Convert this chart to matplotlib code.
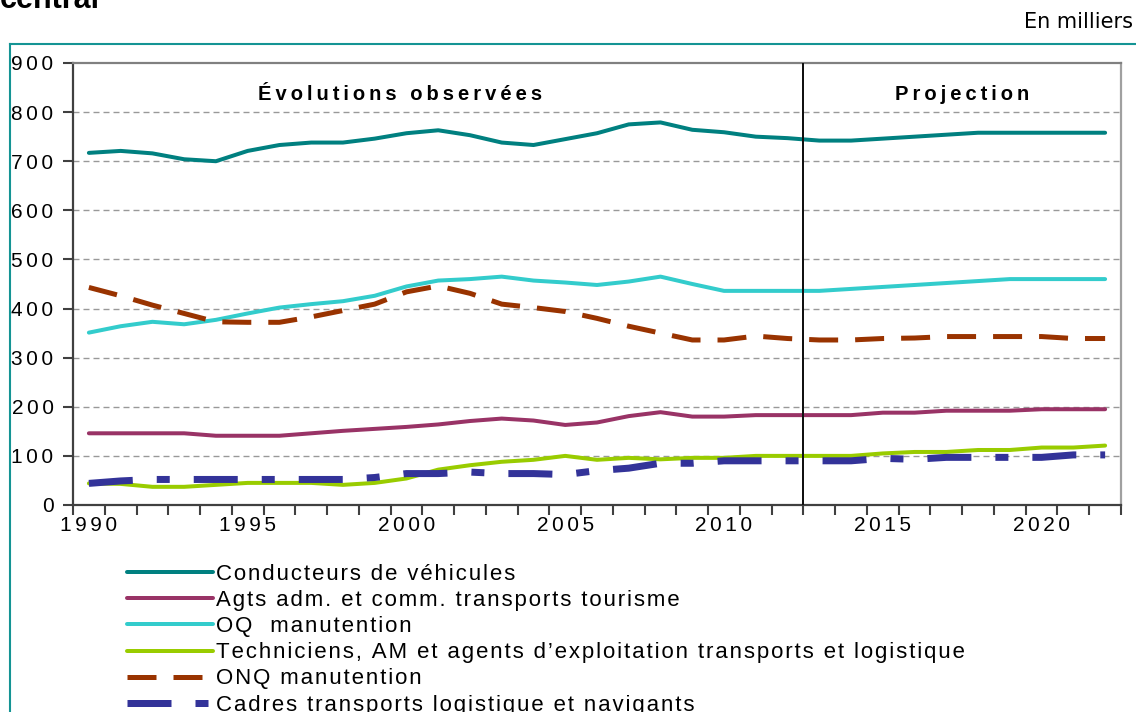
import matplotlib
matplotlib.use('Agg')
import matplotlib.pyplot as plt
import numpy as np
from matplotlib.lines import Line2D

plt.rcParams['font.family'] = ['Liberation Sans', 'DejaVu Sans']
plt.rcParams['lines.scale_dashes'] = False

# ---------------- data ----------------
years = list(range(1990, 2023))
conducteurs = [717, 721, 716, 704, 700, 721, 733, 738, 738, 746, 757, 763, 753, 738, 733,
               745, 757, 775, 779, 764, 759, 750, 747, 742, 742, 746, 750, 754, 758, 758,
               758, 758, 758]
agts = [146, 146, 146, 146, 141, 141, 141, 146, 151, 155, 159, 164, 171, 176, 172,
        163, 168, 181, 189, 180, 180, 183, 183, 183, 183, 188, 188, 192, 192, 192,
        195, 195, 195]
oq = [351, 364, 373, 368, 377, 390, 402, 409, 415, 426, 445, 457, 460, 465, 457,
      453, 448, 455, 465, 450, 436, 436, 436, 436, 440, 444, 448, 452, 456, 460,
      460, 460, 460]
tech = [44, 43, 37, 37, 41, 45, 45, 45, 41, 45, 54, 72, 81, 88, 92,
        100, 92, 96, 93, 96, 96, 100, 100, 100, 100, 105, 108, 108, 112, 112,
        117, 117, 121]
onq = [443, 426, 407, 390, 373, 372, 372, 383, 396, 409, 434, 446, 431, 409, 402,
       394, 380, 364, 350, 336, 336, 344, 339, 336, 336, 339, 340, 343, 343, 343,
       343, 339, 339]
cadres = [44, 49, 52, 52, 52, 52, 52, 52, 52, 56, 64, 64, 67, 64, 64,
          62, 70, 75, 85, 85, 90, 90, 90, 90, 90, 95, 93, 97, 97, 97,
          97, 102, 102]

labels = ["Conducteurs de véhicules",
          "Agts adm. et comm. transports tourisme",
          "OQ  manutention",
          "Techniciens, AM et agents d\u2019exploitation transports et logistique",
          "ONQ manutention",
          "Cadres transports logistique et navigants"]
y_ticks = [0, 100, 200, 300, 400, 500, 600, 700, 800, 900]
x_label_years = [1990, 1995, 2000, 2005, 2010, 2015, 2020]
last_observed_year = 2012
zone_labels = ["Évolutions observées", "Projection"]
unit_label = "En milliers"
top_text = "central"

colors = ['#008080', '#993366', '#33CCCC', '#99CC00', '#993300', '#333399']


def sp(s, ch='\u200a', n=1):
    return (ch * n).join(s)


W, H = 1136, 712
fig = plt.figure(figsize=(W / 100, H / 100), dpi=100)
ax = fig.add_axes([73 / W, 1 - 505 / H, (1121 - 73) / W, (505 - 63) / H])

x = np.arange(len(years))
px = 0.72  # points per pixel

series = [conducteurs, agts, oq, tech, onq, cadres]
handles = []
for i, (vals, lab) in enumerate(zip(series, labels)):
    if i < 4:
        ln, = ax.plot(x, vals, color=colors[i], lw=4 * px, solid_capstyle='round',
                      solid_joinstyle='round', label=sp(lab))
    elif i == 4:
        ln, = ax.plot(x, vals, color=colors[i], lw=5 * px,
                      dashes=(29 * px, 17 * px), dash_capstyle='butt', label=sp(lab))
    else:
        ln, = ax.plot(x, vals, color=colors[i], lw=7 * px,
                      dashes=(44 * px, 24 * px, 13 * px, 24 * px),
                      dash_capstyle='butt', label=sp(lab))
    handles.append(ln)

ax.set_xlim(-0.5, len(years) - 0.5)
ax.set_ylim(0, 900)

# grid
for v in y_ticks[1:-1]:
    ax.axhline(v, color='#999999', lw=1.0, dashes=(6 * px, 4 * px), zorder=0)

# vertical separator
xi = years.index(last_observed_year) + 0.5
ax.axvline(xi, color='#111111', lw=2 * px, zorder=5)

# y ticks
ax.set_yticks(y_ticks)
ax.set_yticklabels([sp(str(v), n=2) for v in y_ticks])
ax.tick_params(axis='y', direction='out', length=7, width=1.5, color='#404040',
               labelsize=15, pad=7)

# x ticks at category boundaries; labels at centers
ax.set_xticks(np.arange(-0.5, len(years) + 0.5, 1.0))
ax.set_xticklabels([])
ax.tick_params(axis='x', which='major', direction='out', length=7, width=1.5,
               color='#404040')
ax.set_xticks([years.index(y) for y in x_label_years], minor=True)
ax.set_xticklabels([sp(str(y), n=2) for y in x_label_years], minor=True)
ax.tick_params(axis='x', which='minor', length=0, labelsize=15, pad=8)

# spines
ax.spines['left'].set_color('#404040')
ax.spines['left'].set_linewidth(1.6)
ax.spines['bottom'].set_color('#404040')
ax.spines['bottom'].set_linewidth(1.6)
ax.spines['top'].set_color('#808080')
ax.spines['top'].set_linewidth(1.6)
ax.spines['right'].set_color('#a0a0a0')
ax.spines['right'].set_linewidth(1.6)

# zone labels
ax.text(9.8, 836, sp(zone_labels[0], ch='\u2009'), ha='center', va='center',
        fontsize=14.5, fontweight='bold')
ax.text(27.5, 836, sp(zone_labels[1], ch='\u2009'), ha='center', va='center',
        fontsize=14.5, fontweight='bold')

# legend
fs_leg = 16
fs_px = fs_leg / 0.72
fig.legend(handles=handles, loc='upper left',
           bbox_to_anchor=(127 / W, 1 - 564 / H),
           frameon=False, fontsize=fs_leg, handlelength=86 / fs_px,
           handletextpad=3 / fs_px, labelspacing=0.23, borderpad=0,
           borderaxespad=0)

# outer frame (teal)
teal = '#149494'
fig.add_artist(Line2D([10 / W, 10 / W], [1 - 44 / H, -0.05], color=teal, lw=1.5,
                      transform=fig.transFigure))
fig.add_artist(Line2D([10 / W, 1.05], [1 - 44 / H, 1 - 44 / H], color=teal, lw=1.5,
                      transform=fig.transFigure))

fig.text(1133 / W, 1 - 22 / H, unit_label, ha='right', va='center', fontsize=15,
         family='DejaVu Sans')
fig.text(0 / W, 1 - 8 / H, top_text, ha='left', va='baseline', fontsize=22,
         fontweight='bold')

fig.savefig('out.png', dpi=100)
